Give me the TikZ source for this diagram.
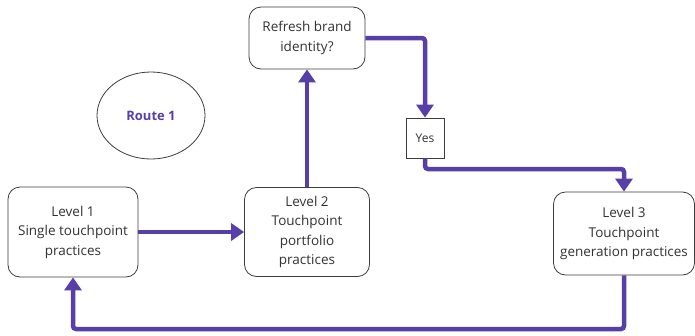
\documentclass[tikz,border=0pt]{standalone}
\usepackage{fontspec}
\setmainfont{Open Sans}
\usetikzlibrary{arrows.meta,shapes.geometric}
\definecolor{flowpurple}{RGB}{88,62,168}
\definecolor{textgray}{RGB}{50,50,50}
\definecolor{boxgray}{RGB}{60,60,60}
\begin{document}
\begin{tikzpicture}[x=1pt,y=-1pt,
  stage/.style={draw=boxgray, line width=0.8pt, rounded corners=12pt, align=center,
    text=textgray, font=\fontsize{13.5}{19.5}\selectfont, inner sep=0pt},
  answer/.style={draw=boxgray, line width=0.8pt, align=center, text=textgray,
    font=\fontsize{12}{14}\selectfont, inner sep=0pt, minimum width=38pt, minimum height=40pt},
  flow/.style={draw=flowpurple, line width=4.5pt, rounded corners=3pt,
    -{Triangle[length=13pt,width=17pt]}}]
\useasboundingbox (0,0) rectangle (695,335);

% process stages
\node[stage, minimum width=130pt, minimum height=90pt] (L1) at (73,232)
  {Level 1\\Single touchpoint\\practices};
\node[stage, minimum width=125pt, minimum height=89pt] (L2) at (307,232)
  {Level 2\\Touchpoint\\portfolio\\practices};
\node[stage, minimum width=116pt, minimum height=62pt] (R) at (307,38)
  {Refresh brand\\identity?};
\node[answer] (Y) at (425,138) {Yes};
\node[stage, minimum width=141pt, minimum height=83pt] (L3) at (624,233.5)
  {Level 3\\Touchpoint\\generation practices};

% route label
\node[draw=boxgray, line width=0.8pt, ellipse, minimum width=108pt, minimum height=87pt,
  inner sep=0pt, text=flowpurple, font=\fontsize{13}{15}\selectfont\bfseries] (route) at (151,115.5) {Route 1};

% bend points of the connectors
\coordinate (c1) at (425,169);
\coordinate (c2) at (624,329);

% connectors
\draw[flow] (L1) -- (L2);
\draw[flow] (L2) -- (R);
\draw[flow] (R.east) -| (Y.north);
\draw[flow] (Y.south) -- (c1) -| (L3.north);
\draw[flow] (L3.south) -- (c2) -| (L1.south);
\end{tikzpicture}
\end{document}
